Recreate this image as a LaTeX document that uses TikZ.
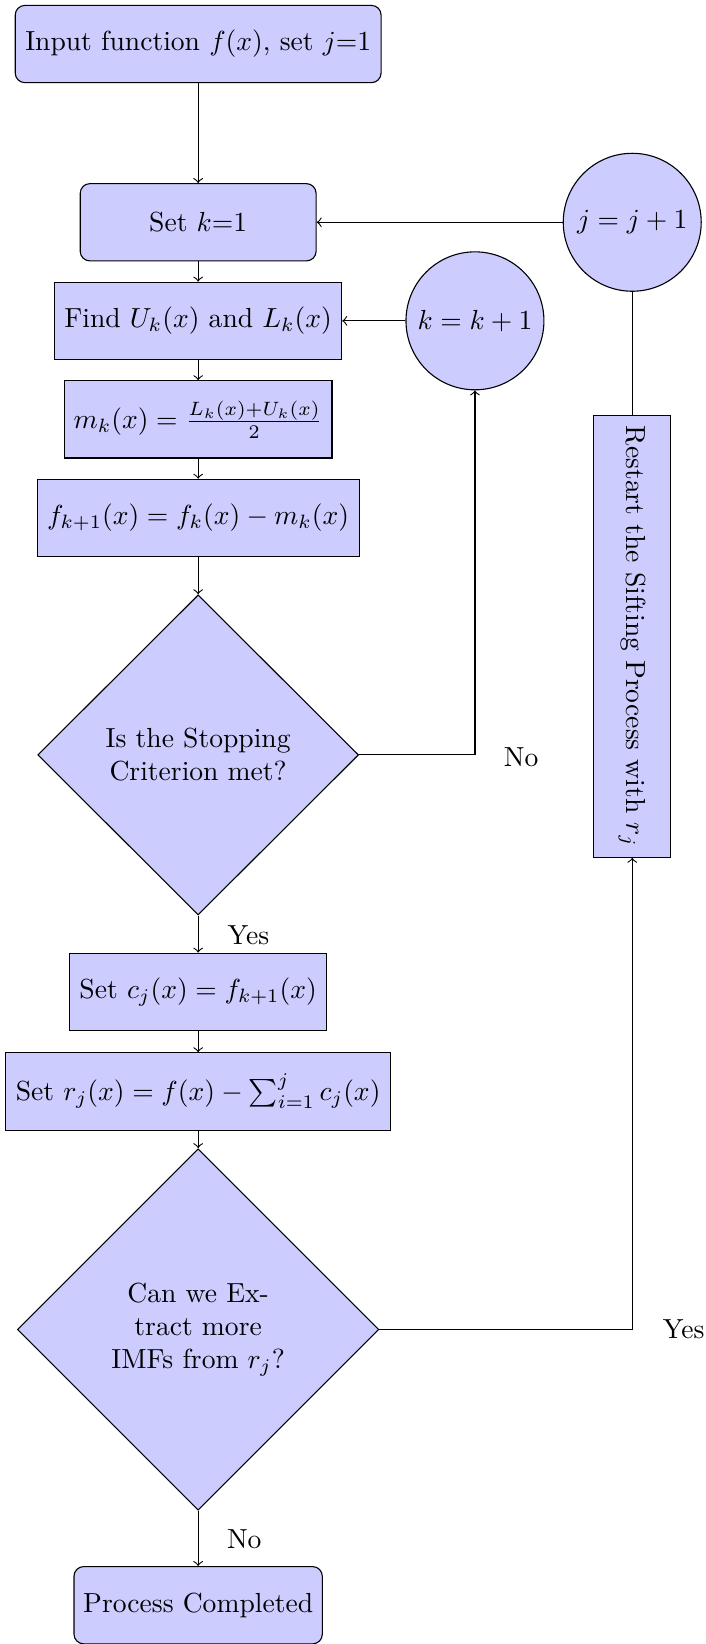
\documentclass[tikz,border=0pt]{standalone}
\usetikzlibrary{shapes.geometric}
\begin{document}
\begin{tikzpicture}[x=0.38pt,y=-0.38pt,
  box/.style={draw, fill=blue!20, minimum height=28pt, inner sep=3.33pt},
  rbox/.style={box, rounded corners=3.5pt},
  dec/.style={diamond, draw, fill=blue!20, aspect=1, align=center, inner sep=0pt},
  circ/.style={circle, draw, fill=blue!20, minimum size=50pt, inner sep=1pt},
  lab/.style={inner sep=0pt}]
\useasboundingbox (0,0) rectangle (673,1568);
\node[rbox, minimum width=132.6pt] (in) at (189,42) {Input function $f(x)$, set $j$=1};
\node[rbox, minimum width=85.5pt] (setk) at (189,212) {Set $k$=1};
\node[box, minimum width=104pt] (find) at (189,306) {Find $U_k(x)$ and $L_k(x)$};
\node[box, minimum width=97pt] (mk) at (189,400) {$m_k(x) = \frac{L_k(x)+U_k(x)}{2}$};
\node[box, minimum width=116.7pt] (fk) at (189,494) {$f_{k+1}(x) = f_k(x) - m_k(x)$};
\node[dec, minimum width=116.3pt, minimum height=116pt] (d1) at (189,720) {Is the Stopping\\Criterion met?};
\node[box, minimum width=93pt] (cj) at (189,946) {Set $c_j(x) = f_{k+1}(x)$};
\node[box, minimum width=139.5pt] (rj) at (189,1041) {Set $r_j(x) = f(x) - \sum_{i=1}^j c_j(x)$};
\node[dec, minimum width=131pt, minimum height=131pt] (d2) at (189,1268) {Can we Ex-\\tract more\\IMFs from $r_j$?};
\node[rbox, minimum width=90pt] (done) at (189,1531) {Process Completed};
\node[circ] (kinc) at (453,306) {$k=k+1$};
\node[circ] (jinc) at (603,212) {$j=j+1$};
\node[box, rotate=-90, minimum width=160pt] (restart) at (603,607) {Restart the Sifting Process with $r_j$};

\draw[->] (in) -- (setk);
\draw[->] (setk) -- (find);
\draw[->] (find) -- (mk);
\draw[->] (mk) -- (fk);
\draw[->] (fk) -- (d1);
\draw[->] (d1) -- (cj);
\draw[->] (cj) -- (rj);
\draw[->] (rj) -- (d2);
\draw[->] (d2) -- (done);
\draw[->] (jinc) -- (setk);
\draw[->] (kinc) -- (find);
\draw[->] (d1.east) -| (kinc);
\draw[->] (d2.east) -| (restart);
\draw (restart) -- (jinc);

\node[lab] (no1) at (497,722) {No};
\node[lab] (yes1) at (237,892) {Yes};
\node[lab] (yes2) at (652,1268) {Yes};
\node[lab] (no2) at (233,1468) {No};
\end{tikzpicture}
\end{document}
